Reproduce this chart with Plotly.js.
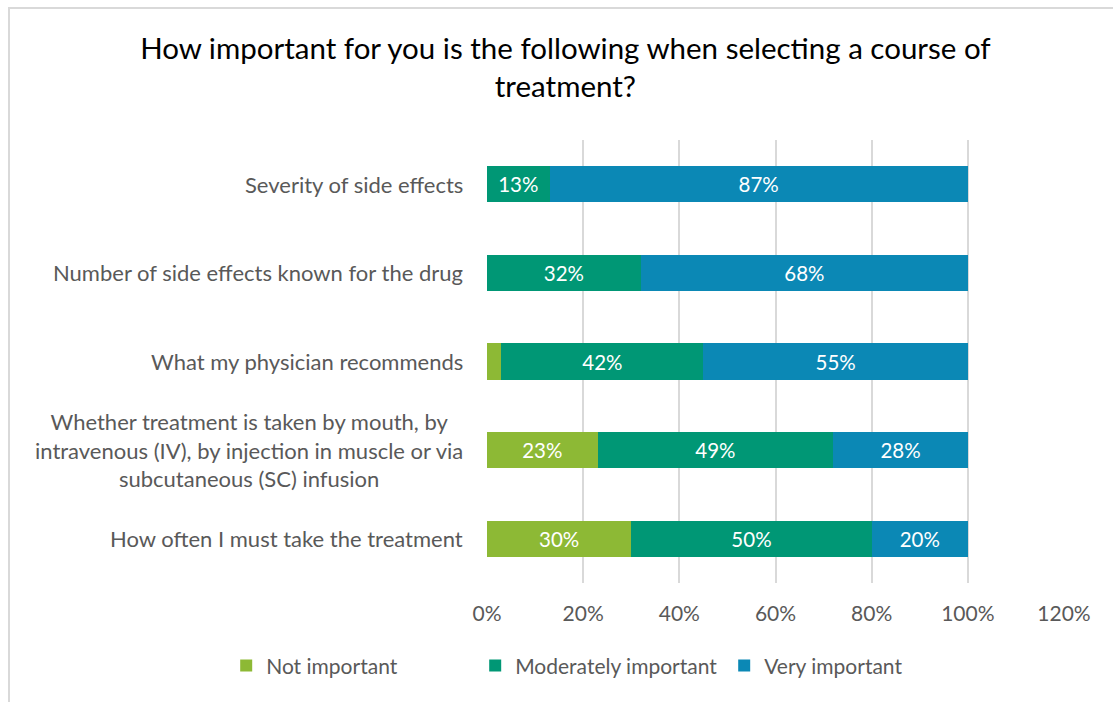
<!DOCTYPE html>
<html>
<head>
<meta charset="utf-8">
<script src="https://cdn.plot.ly/plotly-3.0.1.min.js"></script>
<style>
  html, body { margin: 0; padding: 0; background: #fff; }
  #wrap { position: relative; width: 1113px; height: 702px; overflow: hidden; }
  #chart { width: 1113px; height: 702px; }
  #frame { position: absolute; left: 8px; top: 7px; width: 1200px; height: 800px;
           border-left: 2px solid #d9d9d9; border-top: 2px solid #d9d9d9; pointer-events: none; }
</style>
</head>
<body>
<div id="wrap"><div id="chart"></div><div id="frame"></div></div>
<script>
const categories = [
  "Severity of side effects",
  "Number of side effects known for the drug",
  "What my physician recommends",
  "Whether treatment is taken by mouth, by<br>intravenous (IV), by injection in muscle or via<br>subcutaneous (SC) infusion",
  "How often I must take the treatment"
];
const seriesNames = ["Not important", "Moderately important", "Very important"];
const notImportant = [0, 0, 3, 23, 30];
const moderatelyImportant = [13, 32, 42, 49, 50];
const veryImportant = [87, 68, 55, 28, 20];
const xTickValues = [0, 20, 40, 60, 80, 100, 120];
const xTickLabels = ["0%", "20%", "40%", "60%", "80%", "100%", "120%"];
const colors = ["#8DB935", "#009775", "#0B88B5"];

const FONT = "Lato, 'Open Sans', sans-serif";
const seriesValues = [notImportant, moderatelyImportant, veryImportant];

const traces = seriesValues.map((vals, i) => ({
  type: "bar",
  orientation: "h",
  name: seriesNames[i],
  y: categories,
  x: vals,
  marker: { color: colors[i], line: { width: 0 } },
  text: vals.map(v => v >= 5 ? v + "%" : ""),
  textposition: "inside",
  insidetextanchor: "middle",
  textangle: 0,
  constraintext: "none",
  textfont: { family: FONT, size: 20.5, color: "#ffffff" },
  hoverinfo: "skip"
}));

const annotations = categories.map(c => ({
  xref: "paper", yref: "y", x: 0, y: c, xanchor: "right", yanchor: "middle",
  xshift: -22, text: c, showarrow: false, align: "center",
  font: { family: FONT, size: 22, color: "#595959" }
}));

const layout = {
  width: 1113, height: 702,
  paper_bgcolor: "#ffffff", plot_bgcolor: "#ffffff",
  margin: { l: 487, r: 49, t: 140, b: 119, autoexpand: false },
  barmode: "stack",
  bargap: 0.59,
  title: {
    text: "How important for you is the following when selecting a course of<br>treatment?",
    font: { family: FONT, size: 29.5, color: "#000000" },
    x: 0.508, xanchor: "center", y: 0.916, yanchor: "top"
  },
  xaxis: {
    range: [0, 120], tickvals: xTickValues, ticktext: xTickLabels,
    showgrid: true, gridcolor: "#d9d9d9", gridwidth: 2,
    zeroline: false, showline: false, ticks: "",
    tickfont: { family: FONT, size: 21, color: "#595959" },
    ticklabelstandoff: 16, fixedrange: true
  },
  yaxis: {
    autorange: "reversed", showticklabels: false, showgrid: false,
    zeroline: false, showline: false, ticks: "", fixedrange: true
  },
  showlegend: true,
  legend: {
    orientation: "h", x: -0.452, xanchor: "left", xref: "paper",
    y: -0.187, yanchor: "middle", yref: "paper",
    font: { family: FONT, size: 21, color: "#595959" },
    traceorder: "normal", itemwidth: 30, tracegroupgap: 0,
    entrywidth: 204, entrywidthmode: "pixels"
  },
  annotations: annotations
};

Plotly.newPlot("chart", traces, layout, { displayModeBar: false, staticPlot: true });
</script>
</body>
</html>
